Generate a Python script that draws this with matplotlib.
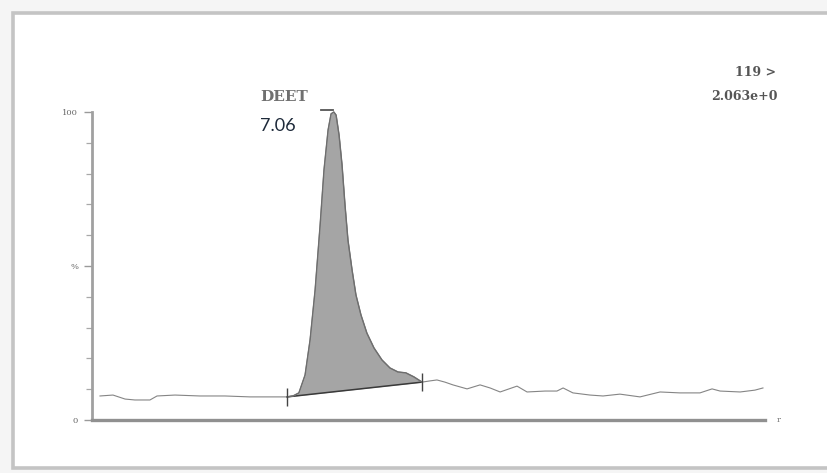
#!/usr/bin/env python3
"""Ion chromatogram (m/z 119) with the integrated DEET peak."""
import numpy as np
import matplotlib as mpl
mpl.use("Agg")
import matplotlib.pyplot as plt
from matplotlib.patches import Rectangle

W, H = 828, 473

# ---- data (time in min, intensity in % of max) ---------------------------
time = [6.035, 6.092, 6.145, 6.188, 6.254, 6.285, 6.364, 6.473, 6.583, 6.693,
        6.780, 6.824, 6.855, 6.881, 6.907, 6.934, 6.956, 6.978, 7.000, 7.017,
        7.035, 7.048, 7.060, 7.070, 7.083, 7.096, 7.109, 7.122, 7.140, 7.157,
        7.179, 7.205, 7.236, 7.271, 7.306, 7.341, 7.376, 7.411, 7.447, 7.482,
        7.512, 7.547, 7.582, 7.644, 7.701, 7.745, 7.789, 7.863, 7.907, 7.986,
        8.038, 8.065, 8.108, 8.183, 8.240, 8.314, 8.402, 8.490, 8.577, 8.665,
        8.718, 8.753, 8.841, 8.906, 8.941]
inten = [7.8, 8.1, 6.8, 6.5, 6.5, 7.8, 8.1, 7.8, 7.8, 7.5,
         7.5, 7.5, 7.5, 7.8, 8.8, 14.6, 26.0, 42.2, 63.3, 81.2,
         94.2, 99.4, 100.0, 99.0, 92.5, 82.8, 69.8, 58.4, 48.7, 40.6,
         34.1, 28.2, 23.4, 19.5, 16.9, 15.6, 15.3, 14.0, 12.3, 12.7,
         13.0, 12.3, 11.4, 10.1, 11.4, 10.4, 9.1, 11.0, 9.1, 9.4,
         9.4, 10.4, 8.8, 8.1, 7.8, 8.4, 7.5, 9.1, 8.8, 8.8,
         10.1, 9.4, 9.1, 9.7, 10.4]
peak_name = "DEET"
peak_start, peak_end = 6.855, 7.447      # integration limits (min)
channel = "119 >"
scale = "2.063e+0"
yticks = [0, 50, 100]
ytick_labels = ["0", "%", "100"]

t = np.array(time)
y = np.array(inten)

fig = plt.figure(figsize=(W / 100, H / 100), dpi=100, facecolor="#f5f5f5")
# white panel with the grey scan border
fig.patches.append(Rectangle((13 / W, 1 - 468 / H), (W + 20) / W, 455 / H,
                             transform=fig.transFigure, fc="white",
                             ec="#c4c4c4", lw=2.6, zorder=-5))

ax = fig.add_axes([92 / W, 1 - 420 / H, (765 - 92) / W, (420 - 112) / H])
ax.set_zorder(2)
ax.set_facecolor("none")
ax.set_xlim(6.0, 8.95)
ax.set_ylim(0, 100)

# integrated area between trace and the drawn baseline
sel = (t >= peak_start) & (t <= peak_end)
y0, y1 = np.interp([peak_start, peak_end], t, y)
base = np.interp(t[sel], [peak_start, peak_end], [y0, y1])
ax.fill_between(t[sel], y[sel], base, color="#a5a5a5", lw=0, zorder=2)
ax.plot([peak_start, peak_end], [y0, y1], color="#3a3a3a", lw=1.1, zorder=3)
ax.plot([peak_start, peak_end], [y0, y1], ls="none", marker="|", ms=13,
        mew=1.0, color="#444", zorder=4)

ax.plot(t, y, color="#858585", lw=0.8, zorder=3, clip_on=False)
ax.plot(t[sel], y[sel], color="#6e6e6e", lw=1.0, zorder=3, clip_on=False)

# apex marker
ia = int(np.argmax(y))
ax.plot([t[ia] - 0.055, t[ia] - 0.005], [y[ia] + 0.8] * 2, color="#555",
        lw=1.3, clip_on=False, zorder=4)

# axes styling
for s in ("top", "right"):
    ax.spines[s].set_visible(False)
ax.spines["left"].set_color("#a0a0a0")
ax.spines["left"].set_linewidth(2.0)
ax.spines["bottom"].set_color("#909090")
ax.spines["bottom"].set_linewidth(2.4)
ax.set_xticks([])
ax.set_yticks(yticks)
ax.set_yticklabels(ytick_labels, family="DejaVu Serif", fontsize=6,
                   color="#666")
ax.set_yticks(np.arange(10, 100, 10), minor=True)
ax.tick_params(axis="y", which="major", length=6, width=1.0, color="#9a9a9a",
               pad=4)
ax.tick_params(axis="y", which="minor", length=4, width=0.9, color="#a8a8a8")

# texts
fig.text(260 / W, 1 - 97 / H, peak_name, family="DejaVu Serif", fontsize=11,
         color="#707070", va="center", ha="left", weight="bold")
fig.text(260 / W, 1 - 126 / H, f"{t[ia]:.2f}", family="Lato", fontsize=13,
         color="#1e2a3a", va="center", ha="left")
fig.text(776 / W, 1 - 73 / H, channel, family="DejaVu Serif", fontsize=9,
         color="#555", va="center", ha="right", weight="bold")
fig.text(778 / W, 1 - 96 / H, scale, family="DejaVu Serif", fontsize=9,
         color="#555", va="center", ha="right", weight="bold")
fig.text(777 / W, 1 - 420 / H, "r", family="DejaVu Serif", fontsize=6,
         color="#777", va="center", ha="left")

fig.savefig("out.png", dpi=100, facecolor=fig.get_facecolor())
print("out.png written")
